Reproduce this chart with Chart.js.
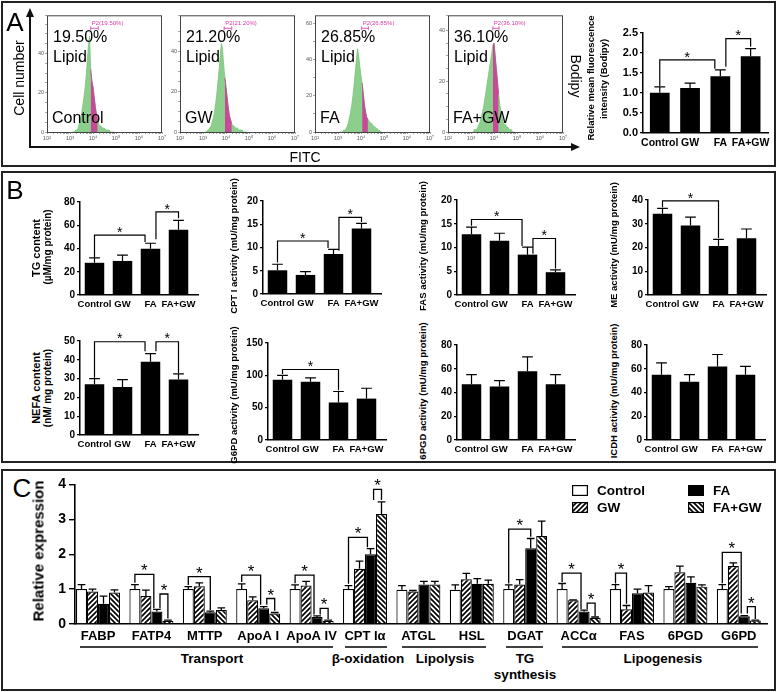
<!DOCTYPE html>
<html>
<head>
<meta charset="utf-8">
<title>Lipid metabolism figure</title>
<script src="https://cdn.jsdelivr.net/npm/chart.js@4.4.1/dist/chart.umd.min.js"></script>
<style>
  html, body { margin: 0; padding: 0; }
  body { width: 778px; height: 692px; position: relative; overflow: hidden; background: #fff;
         font-family: "Liberation Sans", Arial, sans-serif; color: #000; }
  canvas { position: absolute; }
  .t { position: absolute; white-space: nowrap; line-height: 1; }
  svg { position: absolute; left: 0; top: 0; }
</style>
</head>
<body>
<svg width="778" height="692">
  <g fill="none" stroke="#222" stroke-width="2">
    <rect x="2" y="2" width="773" height="164"/>
    <rect x="2" y="172" width="773" height="290"/>
    <rect x="2" y="470" width="773" height="220"/>
  </g>
  <g stroke="#111" stroke-width="2">
    <line x1="30" y1="148" x2="30" y2="16"/>
    <line x1="29" y1="147" x2="571" y2="147"/>
  </g>
  <polygon points="30,8 26,17 34,17" fill="#111"/>
  <polygon points="580,147 571,143 571,151" fill="#111"/>
  <g stroke="#000" stroke-width="1.3">
    <line x1="80" y1="647" x2="333" y2="647"/>
    <line x1="345" y1="647" x2="387" y2="647"/>
    <line x1="402" y1="647" x2="486" y2="647"/>
    <line x1="506" y1="647" x2="543" y2="647"/>
    <line x1="562" y1="647" x2="758" y2="647"/>
  </g>
</svg>
<script>
Chart.defaults.font.family = '"Liberation Sans", Arial, sans-serif';
Chart.defaults.color = '#000';

// ---------------- data ----------------
var groups = ['Control', 'GW', 'FA', 'FA+GW'];

// A - flow cytometry histograms (log10 FITC bins)
var histBins = [3.10, 3.15, 3.20, 3.25, 3.30, 3.35, 3.40, 3.45, 3.50, 3.55, 3.60, 3.65, 3.70, 3.75, 3.80, 3.85, 3.90, 3.95, 4.00,
                4.05, 4.10, 4.15, 4.20, 4.25, 4.30, 4.35, 4.40, 4.45, 4.50, 4.55, 4.60, 4.65, 4.70, 4.75, 4.80, 4.85, 4.90];
var histControl = [0, 0, 0, 1, 1, 2, 4, 6, 9, 13, 17, 22, 28, 36, 44, 49, 32, 26, 23, 18, 13, 9, 6, 4, 3, 3, 2, 2, 2, 1, 1, 1, 1, 0, 0, 0, 0];
var histGW = [0, 0, 1, 1, 2, 3, 5, 7, 10, 14, 19, 25, 31, 38, 44, 41, 33, 27, 22, 17, 12, 8, 6, 4, 3, 3, 2, 2, 2, 1, 1, 1, 1, 0, 0, 0, 0];
var histFA = [0, 0, 0, 1, 1, 2, 3, 5, 8, 11, 15, 20, 26, 33, 40, 46, 42, 36, 31, 27, 21, 15, 11, 8, 7, 6, 5, 5, 4, 3, 3, 2, 2, 1, 1, 0, 0];
var histFAGW = [0, 1, 1, 1, 2, 3, 4, 6, 8, 10, 13, 16, 19, 22, 25, 28, 31, 34, 35, 30, 25, 20, 15, 11, 8, 6, 4, 3, 3, 2, 2, 1, 1, 1, 0, 0, 0];
var histPct = ['19.50%', '21.20%', '26.85%', '36.10%'];
var gateLo = [3.90, 3.92, 4.03, 3.95];
var gateHi = [4.23, 4.25, 4.32, 4.22];
var histMax = [59.5, 58, 64.5, 46];

// A - bodipy bar chart
var bodipy = [1.0, 1.12, 1.41, 1.91];
var bodipyErr = [0.15, 0.12, 0.16, 0.19];
var bodipySig = [[0, 2, 1.82, 1.17, 1.6], [2, 3, 2.35, 1.65, 2.15]];

// B - serum / enzyme assays
var tg = [27.7, 29.3, 39.7, 56.2];
var tgErr = [4.3, 5, 4.8, 8];
var tgSig = [[0, 2, 51.5, 32.5, 45.5], [2, 3, 71.5, 48, 66]];
var cpt = [5.1, 4.1, 8.6, 14.1];
var cptErr = [1.3, 0.7, 1.0, 1.1];
var cptSig = [[0, 2, 11.4, 6.8, 9.9], [2, 3, 16.5, 9.3, 15.5]];
var fas = [12.8, 11.4, 8.5, 4.8];
var fasErr = [1.5, 1.6, 1.6, 0.5];
var fasSig = [[0, 2, 15.9, 14.6, 10.3], [2, 3, 11.9, 8.7, 5.6]];
var me = [34.2, 29.3, 20.6, 23.9];
var meErr = [2.3, 3.5, 2.8, 3.9];
var meSig = [[0, 2, 39.6, 37, 24]];
var nefa = [27, 25.5, 39, 29.5];
var nefaErr = [3, 4, 4.3, 3];
var nefaSig = [[0, 2, 49.6, 30.5, 44.5], [2, 3, 49.6, 44.5, 33]];
var g6pd = [93, 90, 58, 64];
var g6pdErr = [7, 6, 17, 16];
var g6pdSig = [[0, 2, 109, 102, 77]];
var pgd = [47, 45, 58, 47];
var pgdErr = [8, 5, 12, 8];
var icdh = [55, 49, 62, 55];
var icdhErr = [10, 6, 10, 7];

// C - relative gene expression
var genes = ['FABP', 'FATP4', 'MTTP', 'ApoA I', 'ApoA IV', 'CPT Iα', 'ATGL', 'HSL', 'DGAT', 'ACCα', 'FAS', '6PGD', 'G6PD'];
var exprControl = [1.0, 1.0, 1.0, 1.0, 1.0, 1.0, 0.98, 0.98, 1.0, 1.0, 1.0, 1.0, 1.0];
var errControl = [0.13, 0.13, 0.07, 0.15, 0.12, 0.1, 0.12, 0.14, 0.12, 0.16, 0.13, 0.07, 0.13];
var exprGW = [0.93, 0.8, 1.08, 0.68, 1.1, 1.58, 0.93, 1.28, 1.13, 0.68, 0.42, 1.48, 1.66];
var errGW = [0.07, 0.17, 0.1, 0.1, 0.12, 0.22, 0.03, 0.17, 0.14, 0.01, 0.11, 0.18, 0.09];
var exprFA = [0.58, 0.36, 0.34, 0.45, 0.2, 2.0, 1.13, 1.15, 2.17, 0.36, 0.88, 1.18, 0.22];
var errFA = [0.22, 0.06, 0.03, 0.05, 0.03, 0.16, 0.09, 0.15, 0.28, 0.04, 0.12, 0.17, 0.02];
var exprFAGW = [0.9, 0.09, 0.4, 0.3, 0.09, 3.15, 1.13, 1.15, 2.52, 0.18, 0.9, 1.07, 0.1];
var errFAGW = [0.08, 0.02, 0.06, 0.03, 0.02, 0.35, 0.09, 0.11, 0.43, 0.02, 0.2, 0.05, 0.01];
// [gene, group a, group b, bracket level, leg a, leg b]
var exprSig = [[1, 0, 2, 1.42, 1.18, 0.45], [1, 2, 3, 0.86, 0.45, 0.16], [2, 0, 2, 1.36, 1.12, 0.4],
               [3, 0, 2, 1.4, 1.2, 0.55], [3, 2, 3, 0.73, 0.55, 0.38], [4, 0, 2, 1.4, 1.17, 0.27],
               [4, 2, 3, 0.45, 0.27, 0.14], [5, 0, 2, 2.48, 1.15, 2.2], [5, 2, 3, 3.86, 3.55, 3.55],
               [8, 0, 2, 2.72, 1.16, 2.5], [9, 0, 2, 1.46, 1.2, 0.42], [9, 2, 3, 0.6, 0.42, 0.22],
               [10, 0, 1, 1.46, 1.16, 0.58], [12, 0, 2, 2.05, 1.17, 0.3], [12, 2, 3, 0.5, 0.3, 0.14]];

// ---------------- helpers ----------------
function txt(s, x, y, size, o) {
    o = o || {};
    var d = document.createElement('div');
    d.className = 't';
    d.textContent = s;
    d.style.left = x + 'px';
    d.style.top = y + 'px';
    d.style.fontSize = size + 'px';
    if (o.bold) d.style.fontWeight = 'bold';
    var tr = o.left ? 'translate(0,-50%)' : 'translate(-50%,-50%)';
    if (o.rot) tr += ' rotate(' + o.rot + 'deg)';
    d.style.transform = tr;
    document.body.appendChild(d);
}

function canvasAt(x, y, w, h) {
    var c = document.createElement('canvas');
    c.width = w;
    c.height = h;
    c.style.left = x + 'px';
    c.style.top = y + 'px';
    document.body.appendChild(c);
    return c;
}

function hatch(dir) {
    var s = 5;
    var c = document.createElement('canvas');
    c.width = s; c.height = s;
    var g = c.getContext('2d');
    g.fillStyle = '#fff';
    g.fillRect(0, 0, s, s);
    g.strokeStyle = '#000';
    g.lineWidth = 1.7;
    g.beginPath();
    if (dir > 0) {
        g.moveTo(-1, 1); g.lineTo(1, -1);
        g.moveTo(0, s); g.lineTo(s, 0);
        g.moveTo(s - 1, s + 1); g.lineTo(s + 1, s - 1);
    } else {
        g.moveTo(0, 0); g.lineTo(s, s);
        g.moveTo(-1, s - 1); g.lineTo(1, s + 1);
        g.moveTo(s - 1, -1); g.lineTo(s + 1, 1);
    }
    g.stroke();
    return g.createPattern(c, 'repeat');
}

var sup = { 2: '²', 3: '³', 4: '⁴', 5: '⁵', 6: '⁶', 7: '⁷' };

// error bars, significance brackets, histogram box and gate
var marks = {
    id: 'marks',
    afterDatasetsDraw: function (chart, args, o) {
        if (!o || !o.on) return;
        var ctx = chart.ctx, ys = chart.scales.y, area = chart.chartArea;
        ctx.save();
        ctx.strokeStyle = '#000';
        ctx.fillStyle = '#000';
        ctx.lineWidth = o.lw || 1.2;
        var bars = chart.data.datasets.map(function (ds, di) { return chart.getDatasetMeta(di).data; });

        chart.data.datasets.forEach(function (ds, di) {
            (ds.err || []).forEach(function (e, i) {
                var b = bars[di][i];
                var yTop = ys.getPixelForValue(ds.data[i].y + e);
                var half = b.width * o.cap / 2;
                ctx.beginPath();
                ctx.moveTo(b.x, b.y);
                ctx.lineTo(b.x, yTop);
                ctx.moveTo(b.x - half, yTop);
                ctx.lineTo(b.x + half, yTop);
                ctx.stroke();
            });
        });

        if (o.sig) {
            var use = {};
            o.sig.forEach(function (s) { use['a' + s.a] = true; use['b' + s.b] = true; });
            ctx.font = o.star + 'px "Liberation Sans", Arial, sans-serif';
            ctx.textAlign = 'center';
            ctx.textBaseline = 'alphabetic';
            o.sig.forEach(function (s) {
                var ba = bars[s.a[0]][s.a[1]], bb = bars[s.b[0]][s.b[1]];
                var xa = ba.x + (use['b' + s.a] ? ba.width * 0.28 : 0);
                var xb = bb.x - (use['a' + s.b] ? bb.width * 0.28 : 0);
                var yl = ys.getPixelForValue(s.y);
                ctx.beginPath();
                ctx.moveTo(xa, ys.getPixelForValue(s.ya));
                ctx.lineTo(xa, yl);
                ctx.lineTo(xb, yl);
                ctx.lineTo(xb, ys.getPixelForValue(s.yb));
                ctx.stroke();
                ctx.fillText('*', (xa + xb) / 2, yl + o.star * 0.12);
            });
        }

        if (o.box) {
            ctx.strokeStyle = '#444';
            ctx.lineWidth = 1;
            ctx.strokeRect(area.left + 0.5, area.top + 0.5, area.right - area.left - 1, area.bottom - area.top);
        }
        if (o.gate) {
            var xs = chart.scales.x;
            var x1 = xs.getPixelForValue(o.gate.lo), x2 = xs.getPixelForValue(o.gate.hi);
            var yg = area.top + 13;
            ctx.strokeStyle = '#d63aa8';
            ctx.fillStyle = '#d63aa8';
            ctx.lineWidth = 0.8;
            ctx.beginPath();
            ctx.moveTo(x1, yg); ctx.lineTo(x2, yg);
            ctx.moveTo(x1, yg - 2); ctx.lineTo(x1, yg + 2);
            ctx.moveTo(x2, yg - 2); ctx.lineTo(x2, yg + 2);
            ctx.stroke();
            ctx.font = '6px "Liberation Sans", Arial, sans-serif';
            ctx.textAlign = 'left';
            ctx.textBaseline = 'middle';
            ctx.fillText(o.gate.text, x1 + 1, area.top + 8);
        }
        ctx.restore();
    }
};
Chart.register(marks);

function simpleSig(list) {
    return list.map(function (s) { return { a: [0, s[0]], b: [0, s[1]], y: s[2], ya: s[3], yb: s[4] }; });
}

// ---------------- A: histograms ----------------
function histChart(k, left, counts) {
    var cv = canvasAt(left - 12, 11, 12 + 115 + 6, 4 + 117 + 10);
    var lo = gateLo[k], hi = gateHi[k];
    var all = histBins.map(function (b, i) { return { x: b, y: counts[i] }; });
    var gated = all.filter(function (p) { return p.x >= lo && p.x <= hi; });
    new Chart(cv, {
        type: 'line',
        data: {
            datasets: [
                // gated (pink) first so it is painted over the green histogram
                { data: gated, fill: 'origin', backgroundColor: 'rgb(198,74,152)', borderColor: 'rgb(198,74,152)',
                  borderWidth: 0.8, pointRadius: 0, tension: 0 },
                { data: all, fill: 'origin', backgroundColor: 'rgba(128,202,128,0.9)', borderColor: 'rgb(120,196,120)',
                  borderWidth: 0.8, pointRadius: 0, tension: 0 }
            ]
        },
        options: {
            responsive: false, animation: false, devicePixelRatio: 1,
            layout: { padding: { top: 4, right: 6, left: 0, bottom: 0 } },
            plugins: {
                legend: { display: false }, tooltip: { enabled: false },
                marks: { on: true, box: true, gate: { lo: lo, hi: hi, text: 'P2(' + histPct[k] + ')' } }
            },
            scales: {
                x: {
                    type: 'linear', min: 2, max: 7,
                    afterBuildTicks: function (a) {
                        var t = [];
                        for (var d = 2; d <= 7; d++) {
                            for (var m = 1; m <= 9; m++) {
                                var v = d + Math.log10(m);
                                if (v <= 7) t.push({ value: v });
                            }
                        }
                        a.ticks = t;
                    },
                    afterFit: function (a) { a.height = 10; },
                    grid: { drawOnChartArea: false, tickLength: 2, color: '#666', lineWidth: 0.6 },
                    border: { display: false },
                    ticks: {
                        autoSkip: false, maxRotation: 0, minRotation: 0, padding: 1, color: '#555', font: { size: 5.5 },
                        callback: function (v) { return Math.abs(v - Math.round(v)) < 1e-9 ? '10' + sup[Math.round(v)] : ''; }
                    }
                },
                y: {
                    min: 0, max: histMax[k],
                    afterFit: function (a) { a.width = 12; },
                    grid: { drawOnChartArea: false, tickLength: 2, color: '#666', lineWidth: 0.6 },
                    border: { display: false },
                    ticks: { stepSize: 5, padding: 1, color: '#555', font: { size: 5.5 },
                             callback: function (v) { return v % 20 === 0 ? v : ''; } }
                }
            }
        }
    });
}

var histLeft = [47, 180, 315, 448];
var histNames = ['Control', 'GW', 'FA', 'FA+GW'];
[histControl, histGW, histFA, histFAGW].forEach(function (c, k) {
    histChart(k, histLeft[k], c);
});
histLeft.forEach(function (x, k) {
    txt(histPct[k], x + 6, 37, 16, { left: true });
    txt('Lipid', x + 6, 57, 16, { left: true });
    txt(histNames[k], x + 5, 118, 16, { left: true });
});
txt('A', 15, 22, 26);
txt('Cell number', 19, 78, 14, { rot: -90 });
txt('FITC', 305, 157, 14);
txt('Bodipy', 576, 76, 14, { rot: 90 });

// ---------------- bar charts (A right, B) ----------------
function barChart(sp, vals, errs, sig) {
    var padTop = 8, xh = 18;
    var cv = canvasAt(sp.L - sp.yw, sp.topY - padTop, sp.yw + (sp.R - sp.L) + 4, padTop + (sp.zero - sp.topY) + xh);
    new Chart(cv, {
        type: 'bar',
        data: {
            datasets: [{
                data: vals.map(function (v, i) { return { x: i, y: v }; }),
                err: errs,
                backgroundColor: '#000',
                barPercentage: sp.bw / sp.s,
                categoryPercentage: 1
            }]
        },
        options: {
            responsive: false, animation: false, devicePixelRatio: 1,
            layout: { padding: { top: padTop, right: 4, left: 0, bottom: 0 } },
            plugins: {
                legend: { display: false }, tooltip: { enabled: false },
                marks: { on: true, lw: 1.2, cap: 0.55, star: sp.star, sig: simpleSig(sig) }
            },
            scales: {
                x: {
                    type: 'linear', offset: false,
                    min: (sp.L - sp.c0) / sp.s, max: (sp.R - sp.c0) / sp.s,
                    afterBuildTicks: function (a) { a.ticks = groups.map(function (g, i) { return { value: i }; }); },
                    afterFit: function (a) { a.height = xh; },
                    grid: { display: false, drawTicks: false },
                    border: { display: true, color: '#000', width: 1.5 },
                    ticks: {
                        autoSkip: false, maxRotation: 0, minRotation: 0, padding: 4,
                        font: { size: sp.xfs, weight: 'bold' },
                        callback: function (v) { return groups[v]; }
                    }
                },
                y: {
                    min: 0, max: sp.max,
                    afterFit: function (a) { a.width = sp.yw; },
                    grid: { drawOnChartArea: false, drawTicks: true, tickLength: 3, color: '#000', lineWidth: 1.2 },
                    border: { display: true, color: '#000', width: 1.5 },
                    ticks: {
                        stepSize: sp.step, padding: 2, font: { size: sp.yfs, weight: 'bold' },
                        callback: function (v) { return sp.dec ? v.toFixed(sp.dec) : v; }
                    }
                }
            }
        }
    });
}

function bSpec(L, zero, topY, max, step) {
    return { L: L, zero: zero, topY: topY, max: max, step: step, c0: L + 14.5, s: 28, R: L + 118, bw: 19.5,
             yw: 24, xfs: 9.5, yfs: 10, star: 14 };
}

barChart({ L: 643, zero: 133, topY: 32, max: 2.5, step: 0.5, c0: 660, s: 30.7, R: 770, bw: 20,
           yw: 24, xfs: 10.5, yfs: 11, star: 15, dec: 1 }, bodipy, bodipyErr, bodipySig);
txt('Relative mean fluorescence', 591, 78, 9.5, { bold: true, rot: -90 });
txt('intensity (Bodipy)', 604, 79, 9.5, { bold: true, rot: -90 });

txt('B', 15, 190, 26);
barChart(bSpec(80, 295, 202, 80, 20), tg, tgErr, tgSig);
barChart(bSpec(263, 294, 201, 20, 5), cpt, cptErr, cptSig);
barChart(bSpec(457, 295, 200, 20, 5), fas, fasErr, fasSig);
barChart(bSpec(648, 295, 200, 40, 10), me, meErr, meSig);
barChart(bSpec(80, 435, 341, 50, 10), nefa, nefaErr, nefaSig);
barChart(bSpec(268, 440, 343, 150, 50), g6pd, g6pdErr, g6pdSig);
barChart(bSpec(457, 440, 345, 80, 20), pgd, pgdErr, []);
barChart(bSpec(647, 440, 345, 80, 20), icdh, icdhErr, []);

txt('TG content', 36, 248, 11, { bold: true, rot: -90 });
txt('(µM/mg protein)', 48, 247, 10, { bold: true, rot: -90 });
txt('CPT I activity (mU/mg protein)', 234, 246, 9.5, { bold: true, rot: -90 });
txt('FAS activity (mU/mg protein)', 423, 246, 9.5, { bold: true, rot: -90 });
txt('ME activity (mU/mg protein)', 614, 245, 9.5, { bold: true, rot: -90 });
txt('NEFA content', 36, 388, 11, { bold: true, rot: -90 });
txt('(nM/ mg protein)', 48, 388, 10, { bold: true, rot: -90 });
txt('G6PD activity (mU/mg protein)', 234, 395, 9.5, { bold: true, rot: -90 });
txt('6PGD activity (mU/mg protein)', 423, 391, 9.5, { bold: true, rot: -90 });
txt('ICDH activity (mU/mg protein)', 614, 391, 9.5, { bold: true, rot: -90 });

// ---------------- C: grouped expression chart ----------------
var patGW = hatch(1), patFAGW = hatch(-1);
var cFill = ['#fff', patGW, '#000', patFAGW];
var cVals = [exprControl, exprGW, exprFA, exprFAGW];
var cErrs = [errControl, errGW, errFA, errFAGW];

(function () {
    var L = 75, zero = 624, topY = 483, c0 = 98, s = 53.4, R = 767, yw = 30, padTop = 10, xh = 26;
    var cv = canvasAt(L - yw, topY - padTop, yw + (R - L) + 6, padTop + (zero - topY) + xh);
    new Chart(cv, {
        type: 'bar',
        data: {
            datasets: cVals.map(function (vals, d) {
                return {
                    label: groups[d],
                    data: vals.map(function (v, i) { return { x: i, y: v }; }),
                    err: cErrs[d],
                    backgroundColor: cFill[d],
                    borderColor: '#000',
                    borderWidth: 1.2,
                    barPercentage: 1,
                    categoryPercentage: 44 / s
                };
            })
        },
        options: {
            responsive: false, animation: false, devicePixelRatio: 1,
            layout: { padding: { top: padTop, right: 6, left: 0, bottom: 0 } },
            plugins: {
                legend: { display: false }, tooltip: { enabled: false },
                marks: {
                    on: true, lw: 1.3, cap: 0.7, star: 17,
                    sig: exprSig.map(function (q) { return { a: [q[1], q[0]], b: [q[2], q[0]], y: q[3], ya: q[4], yb: q[5] }; })
                }
            },
            scales: {
                x: {
                    type: 'linear', offset: false,
                    min: (L - c0) / s, max: (R - c0) / s,
                    afterBuildTicks: function (a) { a.ticks = genes.map(function (g, i) { return { value: i }; }); },
                    afterFit: function (a) { a.height = xh; },
                    grid: { display: false, drawTicks: false },
                    border: { display: true, color: '#000', width: 1.6 },
                    ticks: {
                        autoSkip: false, maxRotation: 0, minRotation: 0, padding: 5,
                        font: { size: 13, weight: 'bold' },
                        callback: function (v) { return genes[v]; }
                    }
                },
                y: {
                    min: 0, max: 4,
                    afterFit: function (a) { a.width = yw; },
                    grid: { drawOnChartArea: false, drawTicks: true, tickLength: 6, color: '#000', lineWidth: 1.4 },
                    border: { display: true, color: '#000', width: 1.6 },
                    ticks: { stepSize: 1, padding: 3, font: { size: 14, weight: 'bold' } }
                }
            }
        }
    });
})();

txt('C', 22, 488, 26);
txt('Relative expression', 38, 551, 15, { bold: true, rot: -90 });
txt('Transport', 212, 659, 13.5, { bold: true });
txt('β-oxidation', 368, 659, 13.5, { bold: true });
txt('Lipolysis', 445, 659, 13.5, { bold: true });
txt('TG', 525, 659, 13.5, { bold: true });
txt('synthesis', 525, 675, 13.5, { bold: true });
txt('Lipogenesis', 663, 659, 13.5, { bold: true });

// legend
function swatch(x, y, fill) {
    var c = canvasAt(x, y, 16, 11);
    var g = c.getContext('2d');
    g.fillStyle = fill;
    g.fillRect(0, 0, 16, 11);
    g.strokeStyle = '#000';
    g.lineWidth = 1.2;
    g.strokeRect(0.6, 0.6, 14.8, 9.8);
}
var legX = [572, 572, 688, 688], legY = [485, 502, 485, 502];
[0, 1, 2, 3].forEach(function (d) {
    swatch(legX[d], legY[d], cFill[d]);
    txt(groups[d], legX[d] + 25, legY[d] + 5.5, 13.5, { bold: true, left: true });
});
</script>
</body>
</html>
